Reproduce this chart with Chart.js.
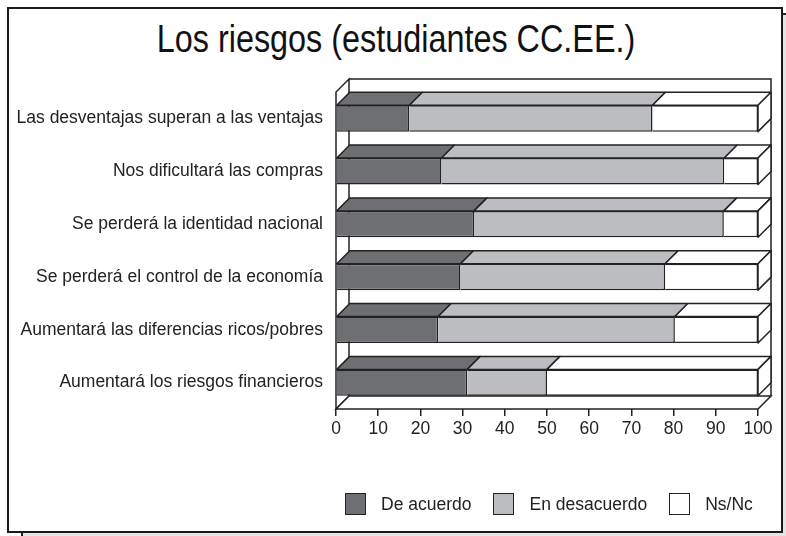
<!DOCTYPE html>
<html lang="es">
<head>
<meta charset="UTF-8">
<title>Los riesgos (estudiantes CC.EE.)</title>
<script src="https://cdn.jsdelivr.net/npm/chart.js"></script>
<style>
  body { margin: 0; background: #fff; }
  #lienzo { position: relative; width: 786px; height: 536px; overflow: hidden; font-family: "Liberation Sans", Arial, sans-serif; }
  #sombra { position: absolute; left: 21px; top: 13px; width: 780px; height: 540px; background: #e4e4e4; border-left: 2px solid #222; border-top: 2px solid #222; }
  #marco { position: absolute; left: 7px; top: 7px; width: 772px; height: 522px; border: 2px solid #1a1a1a; background: #fff; }
  #titulo { position: absolute; left: 7px; width: 776px; top: 17px; text-align: center; font-family: "Liberation Sans", Arial, sans-serif; font-size: 39px; color: #111; transform: scaleX(0.83); transform-origin: 394px 0; }
  #grafico-wrap { position: absolute; left: 0; top: 0; width: 786px; height: 536px; }
  #leyenda { position: absolute; left: 345px; top: 493px; display: flex; align-items: center; font-size: 17.5px; color: #222; }
  #leyenda .item { display: flex; align-items: center; margin-right: 22px; }
  #leyenda .caja { width: 19px; height: 20px; border: 1.5px solid #222; margin-right: 15px; }
</style>
</head>
<body>
<div id="lienzo">
  <div id="sombra"></div>
  <div id="marco"></div>
  <div id="titulo">Los riesgos (estudiantes CC.EE.)</div>
  <div id="grafico-wrap"><canvas id="grafico"></canvas></div>
  <div id="leyenda"></div>
</div>

<script>
  // datos
  const categorias = [
    'Las desventajas superan a las ventajas',
    'Nos dificultará las compras',
    'Se perderá la identidad nacional',
    'Se perderá el control de la economía',
    'Aumentará las diferencias ricos/pobres',
    'Aumentará los riesgos financieros'
  ];
  const series = ['De acuerdo', 'En desacuerdo', 'Ns/Nc'];
  const deAcuerdo = [17.4, 25.0, 32.7, 29.5, 24.2, 31.1];
  const enDesacuerdo = [57.6, 67.0, 59.2, 48.5, 56.1, 18.9];
  const nsNc = [25.0, 8.0, 8.1, 22.0, 19.7, 50.0];
  const colores = ['#6e6f73', '#bcbdc1', '#ffffff'];

  const PROF = 13; // profundidad del efecto 3D

  const caja3d = {
    id: 'caja3d',
    beforeDatasetsDraw(chart) {
      const { ctx, chartArea: a } = chart;
      ctx.save();
      ctx.lineWidth = 1.5;
      ctx.strokeStyle = '#222';
      ctx.fillStyle = '#fff';
      // pared izquierda
      ctx.beginPath();
      ctx.moveTo(a.left, a.bottom);
      ctx.lineTo(a.left, a.top);
      ctx.lineTo(a.left + PROF, a.top - PROF);
      ctx.lineTo(a.left + PROF, a.bottom - PROF);
      ctx.closePath();
      ctx.fill(); ctx.stroke();
      // suelo
      ctx.beginPath();
      ctx.moveTo(a.left, a.bottom);
      ctx.lineTo(a.right, a.bottom);
      ctx.lineTo(a.right + PROF, a.bottom - PROF);
      ctx.lineTo(a.left + PROF, a.bottom - PROF);
      ctx.closePath();
      ctx.fill(); ctx.stroke();
      // aristas del fondo
      ctx.beginPath();
      ctx.moveTo(a.left + PROF, a.top - PROF);
      ctx.lineTo(a.right + PROF, a.top - PROF);
      ctx.lineTo(a.right + PROF, a.bottom - PROF);
      ctx.stroke();
      ctx.restore();
    },
    afterDatasetsDraw(chart) {
      const { ctx } = chart;
      const n = chart.data.datasets.length;
      ctx.save();
      ctx.lineWidth = 1.5;
      ctx.strokeStyle = '#222';
      ctx.lineJoin = 'round';
      chart.data.datasets.forEach((ds, i) => {
        const meta = chart.getDatasetMeta(i);
        meta.data.forEach(bar => {
          const p = bar.getProps(['x', 'y', 'base', 'height'], true);
          const izq = Math.min(p.x, p.base), der = Math.max(p.x, p.base);
          const arriba = p.y - p.height / 2, abajo = p.y + p.height / 2;
          ctx.fillStyle = ds.backgroundColor;
          // cara superior
          ctx.beginPath();
          ctx.moveTo(izq, arriba);
          ctx.lineTo(der, arriba);
          ctx.lineTo(der + PROF, arriba - PROF);
          ctx.lineTo(izq + PROF, arriba - PROF);
          ctx.closePath();
          ctx.fill(); ctx.stroke();
          // cara lateral
          if (i === n - 1) {
            ctx.beginPath();
            ctx.moveTo(der, arriba);
            ctx.lineTo(der + PROF, arriba - PROF);
            ctx.lineTo(der + PROF, abajo - PROF);
            ctx.lineTo(der, abajo);
            ctx.closePath();
            ctx.fill(); ctx.stroke();
          }
        });
      });
      ctx.restore();
    }
  };

  const valores = [deAcuerdo, enDesacuerdo, nsNc];

  new Chart(document.getElementById('grafico'), {
    type: 'bar',
    data: {
      labels: categorias,
      datasets: series.map((s, i) => ({
        label: s,
        data: valores[i],
        backgroundColor: colores[i],
        borderColor: '#222',
        borderWidth: 1.5,
        categoryPercentage: 1,
        barPercentage: 0.5
      }))
    },
    options: {
      indexAxis: 'y',
      responsive: true,
      maintainAspectRatio: false,
      animation: false,
      layout: { padding: { top: 92, right: 28, left: 0, bottom: 0 } },
      scales: {
        x: {
          stacked: true,
          min: 0,
          max: 100,
          ticks: { stepSize: 10, color: '#222', padding: 3, font: { family: 'Liberation Sans', size: 17.5 } },
          grid: { display: true, drawOnChartArea: false, drawTicks: true, tickLength: 7, color: '#222', lineWidth: 1.5 },
          border: { display: false },
          afterFit(scale) { scale.height = 127; }
        },
        y: {
          stacked: true,
          ticks: { color: '#222', padding: 5, font: { family: 'Liberation Sans', size: 17.5 } },
          grid: { display: false },
          border: { display: false },
          afterFit(scale) { scale.width = 336; }
        }
      },
      plugins: {
        legend: { display: false },
        tooltip: { enabled: false }
      }
    },
    plugins: [caja3d]
  });

  // leyenda
  const leyenda = document.getElementById('leyenda');
  series.forEach((s, i) => {
    const item = document.createElement('div');
    item.className = 'item';
    item.innerHTML = '<span class="caja" style="background:' + colores[i] + '"></span><span>' + s + '</span>';
    leyenda.appendChild(item);
  });
</script>
</body>
</html>
